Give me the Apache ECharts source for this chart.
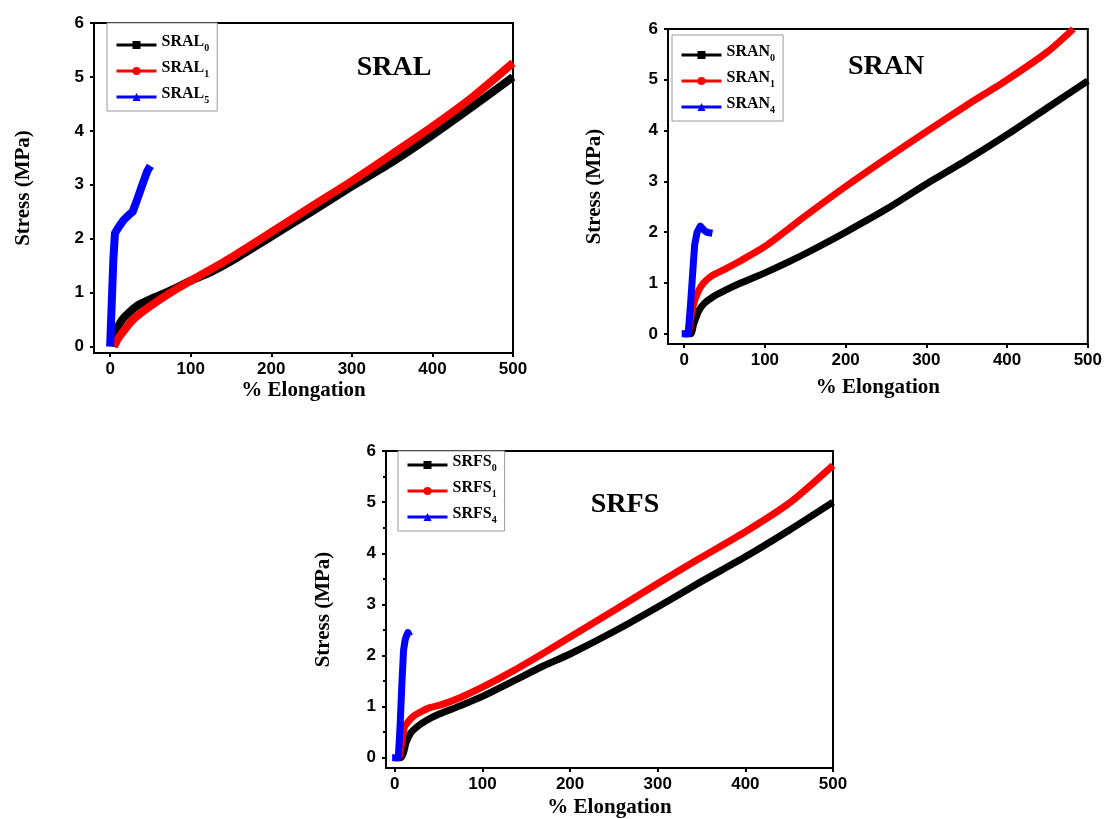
<!DOCTYPE html>
<html>
<head>
<meta charset="utf-8">
<script src="https://cdn.jsdelivr.net/npm/echarts@6/dist/echarts.min.js"></script>
<style>
  html, body { margin: 0; padding: 0; background: #fff; }
  #chart { width: 1105px; height: 819px; }
</style>
</head>
<body>
<div id="chart"></div>
<script>
// Tick positions shared by all three tensile panels
const elongationTicks = [0, 100, 200, 300, 400, 500];
const stressTicks = [0, 1, 2, 3, 4, 5, 6];
const stressMinorTicks = [0.5, 1.5, 2.5, 3.5, 4.5, 5.5];

// SRAL stress-strain curves: [% elongation, stress MPa]
const sralNames = ['SRAL0', 'SRAL1', 'SRAL5'];
const sral0 = [[3,0],[5,0.1],[8,0.3],[15,0.5],[25,0.65],[35,0.77],[50,0.88],[75,1.04],[100,1.22],[125,1.38],[150,1.58],[200,2.04],[250,2.5],[300,2.97],[350,3.42],[400,3.92],[450,4.45],[500,5.0]];
const sral1 = [[5,0],[10,0.15],[20,0.35],[30,0.52],[50,0.75],[75,1.0],[100,1.22],[150,1.65],[200,2.12],[250,2.6],[300,3.07],[350,3.57],[400,4.08],[450,4.63],[500,5.26]];
const sral5 = [[0,0],[2,0.8],[4,1.6],[6,2.1],[10,2.2],[17,2.35],[24,2.45],[28,2.5],[33,2.7],[40,3.0],[46,3.25],[50,3.35]];

// SRAN stress-strain curves
const sranNames = ['SRAN0', 'SRAN1', 'SRAN4'];
const sran0 = [[0,0],[8,0],[12,0.2],[18,0.45],[25,0.6],[35,0.72],[50,0.85],[70,1.0],[100,1.2],[130,1.42],[160,1.66],[200,2.0],[250,2.45],[300,2.95],[350,3.42],[400,3.92],[450,4.45],[500,4.98]];
const sran1 = [[0,0],[4,0],[8,0.3],[12,0.6],[17,0.82],[24,1.0],[35,1.15],[50,1.27],[70,1.44],[100,1.72],[150,2.32],[200,2.9],[250,3.45],[300,3.98],[350,4.5],[400,5.0],[450,5.55],[482,6.0]];
const sran4 = [[-3,0],[5,0],[8,0.6],[11,1.3],[13,1.75],[16,2.0],[20,2.12],[24,2.05],[28,2.0],[35,1.98]];

// SRFS stress-strain curves
const srfsNames = ['SRFS0', 'SRFS1', 'SRFS4'];
const srfs0 = [[0,0],[7,0],[10,0.1],[13,0.3],[18,0.48],[25,0.6],[35,0.72],[50,0.85],[75,1.02],[100,1.2],[133,1.48],[170,1.8],[200,2.03],[250,2.47],[300,2.95],[350,3.45],[400,3.93],[450,4.45],[500,5.0]];
const srfs1 = [[5,0],[8,0.3],[11,0.6],[15,0.7],[22,0.82],[30,0.9],[40,0.98],[55,1.05],[75,1.18],[100,1.38],[133,1.68],[170,2.05],[200,2.36],[250,2.88],[300,3.41],[350,3.92],[400,4.42],[450,4.98],[500,5.72]];
const srfs4 = [[-3,0],[4,0],[6,0.6],[8,1.4],[10,2.1],[12,2.32],[15,2.45],[17,2.38]];

const panelTitles = ['SRAL', 'SRAN', 'SRFS'];

const BLACK = '#000000', RED = '#ff0000', BLUE = '#0000ff';
const serif = '"Liberation Serif", "Times New Roman", serif';
const sans = '"Liberation Sans", Arial, sans-serif';

// Panel layout (pixels) and axis extents
const panels = [
  { grid: { left: 94, top: 23, width: 419, height: 330 }, xMin: -20, yMin: -0.12,
    xNameGap: 27, yNameGap: 60, legend: { left: 107, top: 23, padTop: 11 }, title: [394, 68],
    names: sralNames, data: [sral0, sral1, sral5], minor: false, lineWidth: 8 },
  { grid: { left: 668, top: 29, width: 421, height: 315 }, xMin: -20, yMin: -0.2,
    xNameGap: 33, yNameGap: 63, legend: { left: 672, top: 35, padTop: 9 }, title: [886, 67],
    names: sranNames, data: [sran0, sran1, sran4], minor: false, lineWidth: 7 },
  { grid: { left: 386, top: 451, width: 447, height: 318 }, xMin: -10, yMin: -0.2,
    xNameGap: 29, yNameGap: 52, legend: { left: 398, top: 451, padTop: 3 }, title: [625, 505],
    names: srfsNames, data: [srfs0, srfs1, srfs4], minor: true, lineWidth: 7 }
];

const axisLineStyle = { color: BLACK, width: 2 };
const labelStyle = { fontFamily: sans, fontWeight: 'bold', fontSize: 17, color: BLACK };
const nameStyle = { fontFamily: serif, fontWeight: 'bold', fontSize: 21, color: BLACK };

const grids = [], xAxes = [], yAxes = [], series = [], legends = [], graphics = [];

panels.forEach((p, i) => {
  grids.push(Object.assign({ show: true, borderColor: BLACK, borderWidth: 2, backgroundColor: 'transparent' }, p.grid));

  xAxes.push({
    type: 'value', gridIndex: i, min: p.xMin, max: 500,
    name: '% Elongation', nameLocation: 'middle', nameGap: p.xNameGap, nameTextStyle: nameStyle,
    axisLine: { onZero: false, lineStyle: axisLineStyle },
    axisTick: { customValues: elongationTicks, length: 4, lineStyle: axisLineStyle },
    axisLabel: Object.assign({ customValues: elongationTicks, margin: 8 }, labelStyle),
    splitLine: { show: false }
  });

  yAxes.push({
    type: 'value', gridIndex: i, min: p.yMin, max: 6, position: 'left',
    name: 'Stress (MPa)', nameLocation: 'middle', nameGap: p.yNameGap, nameTextStyle: nameStyle,
    axisLine: { onZero: false, lineStyle: axisLineStyle },
    axisTick: { customValues: stressTicks, length: 4, lineStyle: axisLineStyle },
    axisLabel: Object.assign({ customValues: stressTicks, margin: 10 }, labelStyle),
    splitLine: { show: false }
  });

  const colors = [BLACK, RED, BLUE];
  const symbols = ['rect', 'circle', 'triangle'];
  p.data.forEach((d, k) => {
    series.push({
      type: 'line', name: p.names[k], xAxisIndex: i, yAxisIndex: i,
      data: d, showSymbol: false, symbol: symbols[k], symbolSize: 8,
      smooth: k < 2 ? 0.25 : false,
      color: colors[k],
      lineStyle: { color: colors[k], width: p.lineWidth, join: 'round' },
      emphasis: { disabled: true }, silent: true, clip: true, z: 2 + k
    });
  });

  legends.push({
    data: p.names, orient: 'vertical', left: p.legend.left, top: p.legend.top,
    itemWidth: 40, itemHeight: 10, itemGap: 7,
    padding: [p.legend.padTop, 8, 6, 8],
    borderColor: '#9a9a9a', borderWidth: 1, backgroundColor: '#fff',
    selectedMode: false,
    lineStyle: { width: 3 },
    formatter: n => '{b|' + n.slice(0, 4) + '}{s|' + n.slice(4) + '}',
    textStyle: {
      rich: {
        b: { fontFamily: serif, fontWeight: 'bold', fontSize: 16, color: BLACK, lineHeight: 16, padding: [0, 0, 3, 0], verticalAlign: 'bottom' },
        s: { fontFamily: serif, fontWeight: 'bold', fontSize: 10, color: BLACK, lineHeight: 10, verticalAlign: 'bottom' }
      }
    }
  });

  graphics.push({
    type: 'text', x: p.title[0], y: p.title[1], z: 10,
    style: { text: panelTitles[i], font: 'bold 28px ' + serif, fill: BLACK,
             textAlign: 'center', textVerticalAlign: 'middle', align: 'center', verticalAlign: 'middle' }
  });

  if (p.minor) {
    // short half-step ticks on the stress axis
    yAxes.push({
      type: 'value', gridIndex: i, min: p.yMin, max: 6, position: 'left',
      axisLine: { show: false, onZero: false },
      axisTick: { customValues: stressMinorTicks, length: 3, lineStyle: axisLineStyle },
      axisLabel: { show: false }, splitLine: { show: false }
    });
  }
});

const chart = echarts.init(document.getElementById('chart'), null, { renderer: 'canvas' });
chart.setOption({
  animation: false,
  backgroundColor: '#ffffff',
  grid: grids, xAxis: xAxes, yAxis: yAxes,
  legend: legends, series: series, graphic: graphics
});
</script>
</body>
</html>
